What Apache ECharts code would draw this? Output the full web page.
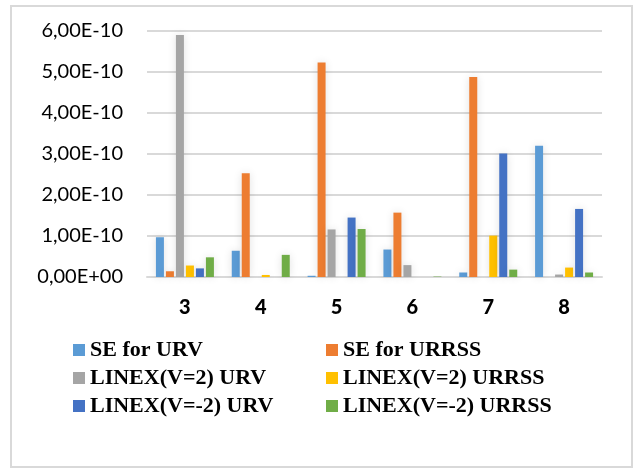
<!DOCTYPE html>
<html>
<head>
<meta charset="utf-8">
<script src="https://cdn.jsdelivr.net/npm/echarts@6/dist/echarts.min.js"></script>
<style>
  html, body { margin: 0; padding: 0; background: #fff; }
  #main { width: 636px; height: 468px; }
</style>
</head>
<body>
<div id="main"></div>
<script>
// categories on x axis
const categories = ['3', '4', '5', '6', '7', '8'];
const seriesNames = ['SE for URV', 'SE for URRSS', 'LINEX(V=2) URV', 'LINEX(V=2) URRSS', 'LINEX(V=-2) URV', 'LINEX(V=-2) URRSS'];
// values
const seForUrv     = [0.97e-10, 0.64e-10, 0.03e-10, 0.67e-10, 0.11e-10, 3.20e-10];
const seForUrrss   = [0.14e-10, 2.53e-10, 5.23e-10, 1.57e-10, 4.88e-10, 0];
const linex2Urv    = [5.90e-10, 0, 1.16e-10, 0.29e-10, 0, 0.06e-10];
const linex2Urrss  = [0.28e-10, 0.05e-10, 0, 0, 1.01e-10, 0.23e-10];
const linexM2Urv   = [0.21e-10, 0, 1.45e-10, 0, 3.01e-10, 1.66e-10];
const linexM2Urrss = [0.48e-10, 0.54e-10, 1.17e-10, 0.01e-10, 0.18e-10, 0.11e-10];
const colors = ['#5B9BD5', '#ED7D31', '#A5A5A5', '#FFC000', '#4472C4', '#70AD47'];

const allData = [seForUrv, seForUrrss, linex2Urv, linex2Urrss, linexM2Urv, linexM2Urrss];

const chart = echarts.init(document.getElementById('main'));

// excel style 6,00E-10
function sciLabel(v) {
  let s = Number(v).toExponential(2);
  let parts = s.split('e');
  let mant = parts[0].replace('.', ',');
  let exp = parseInt(parts[1], 10);
  let sign = exp < 0 ? '-' : '+';
  let e = Math.abs(exp).toString();
  if (e.length < 2) e = '0' + e;
  return mant + 'E' + sign + e;
}

const legendText = {
  fontFamily: 'Liberation Serif',
  fontWeight: 'bold',
  fontSize: 22,
  color: '#000',
  lineHeight: 22
};

const option = {
  animation: false,
  color: colors,
  graphic: [{
    type: 'rect',
    shape: { x: 11, y: 6, width: 621, height: 461 },
    style: { fill: 'none', stroke: '#d9d9d9', lineWidth: 2 },
    silent: true
  }],
  grid: { left: 147, right: 34, top: 31, bottom: 191 },
  legend: [
    {
      orient: 'vertical',
      left: 73, top: 339, padding: 0,
      itemWidth: 12, itemHeight: 12, itemGap: 6,
      icon: 'rect',
      data: [seriesNames[0], seriesNames[2], seriesNames[4]],
      textStyle: legendText
    },
    {
      orient: 'vertical',
      left: 326, top: 339, padding: 0,
      itemWidth: 12, itemHeight: 12, itemGap: 6,
      icon: 'rect',
      data: [seriesNames[1], seriesNames[3], seriesNames[5]],
      textStyle: legendText
    }
  ],
  xAxis: {
    type: 'category',
    data: categories,
    axisLine: { lineStyle: { color: '#d9d9d9', width: 2 } },
    axisTick: { show: false },
    axisLabel: {
      margin: 21,
      fontFamily: 'Lato',
      fontWeight: 900,
      fontSize: 20,
      color: '#000'
    }
  },
  yAxis: {
    type: 'value',
    min: 0,
    max: 6e-10,
    interval: 1e-10,
    axisLine: { show: false },
    axisTick: { show: false },
    splitLine: { lineStyle: { color: '#d9d9d9', width: 2 } },
    axisLabel: {
      margin: 24,
      fontFamily: 'Lato',
      fontSize: 20,
      color: '#000',
      formatter: sciLabel
    }
  },
  series: seriesNames.map(function (name, i) {
    return {
      name: name,
      type: 'bar',
      data: allData[i],
      barWidth: 8,
      barGap: '25%',
      itemStyle: {
        color: colors[i],
        shadowBlur: 8,
        shadowColor: 'rgba(0,0,0,0.12)'
      }
    };
  })
};

chart.setOption(option);
</script>
</body>
</html>
